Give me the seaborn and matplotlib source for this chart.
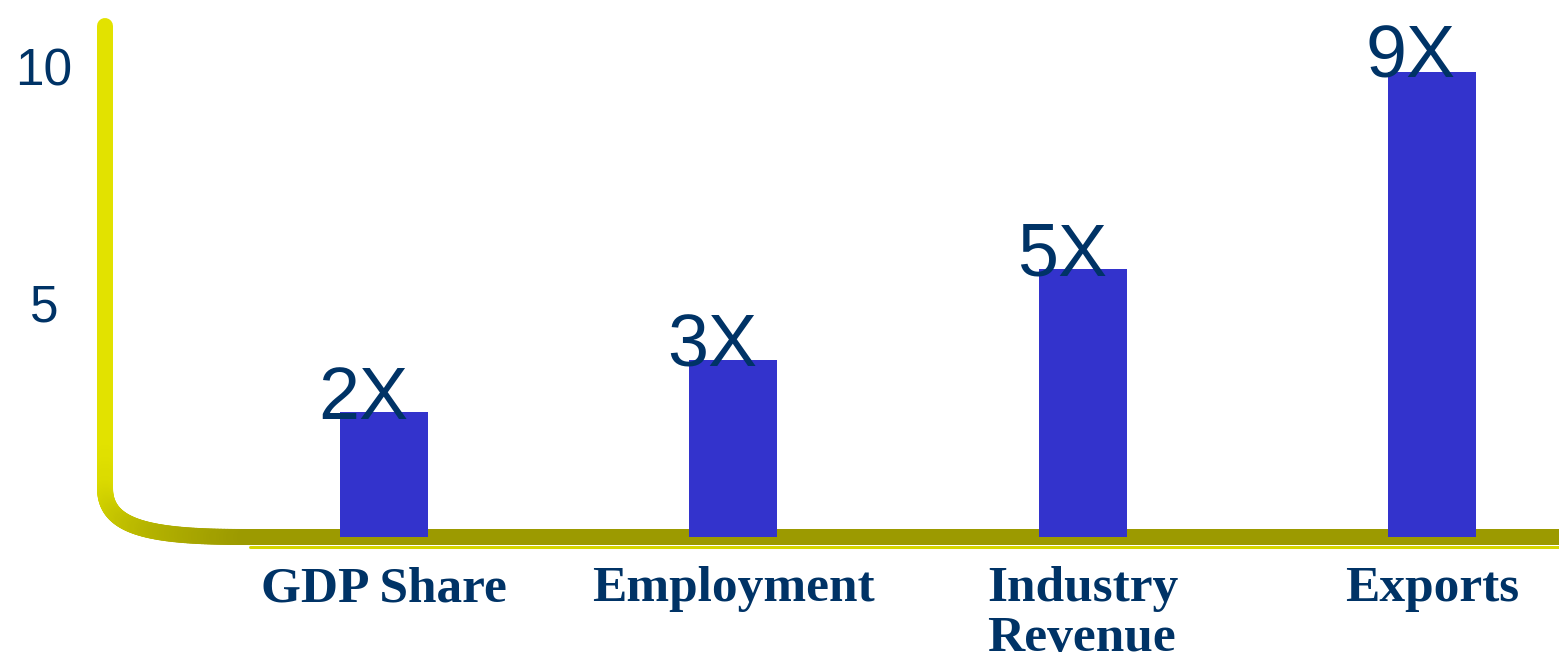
import numpy as np
import matplotlib
matplotlib.use("Agg")
import matplotlib.pyplot as plt
from matplotlib.collections import LineCollection
from matplotlib.lines import Line2D
import seaborn as sns

# ---- data ----
categories = ["GDP Share", "Employment", "Industry\nRevenue", "Exports"]
values = [2.65, 3.77, 5.7, 9.9]
value_labels = ["2X", "3X", "5X", "9X"]
yticks = [5, 10]
ytick_labels = ["5", "10"]

BAR = "#3333CC"
NAVY = "#003366"
YELLOW = np.array([0xE2, 0xE2, 0x00]) / 255
OLIVE = np.array([0x9C, 0x9A, 0x00]) / 255

sns.set_theme(style="white")
plt.rcParams["font.family"] = ["Liberation Sans", "DejaVu Sans"]

W, H = 1559, 661
fig = plt.figure(figsize=(W / 100, H / 100), dpi=100)
ax = fig.add_axes([105 / W, 1 - 537 / H, (W - 105) / W, 517 / H])
ax.patch.set_visible(False)

sns.barplot(x=categories, y=values, color=BAR, saturation=1, width=0.252,
            linewidth=0, edgecolor=BAR, ax=ax, zorder=3)

ax.set_xlim(-0.799, 3.364)
ax.set_ylim(0, 11)
for s in ax.spines.values():
    s.set_visible(False)
ax.set_xlabel("")
ax.set_ylabel("")

ax.set_yticks(yticks)
ax.set_yticklabels(ytick_labels)
ax.tick_params(axis="y", length=0, pad=44, labelsize=37, labelcolor=NAVY)
for t in ax.get_yticklabels():
    t.set_horizontalalignment("center")
    t.set_family(["Liberation Sans", "DejaVu Sans"])

ax.tick_params(axis="x", length=0, pad=21)
for t in ax.get_xticklabels():
    t.set_family(["Liberation Serif", "DejaVu Serif"])
    t.set_fontweight("bold")
    t.set_fontsize(37)
    t.set_color(NAVY)
    t.set_linespacing(1.12)
    t.set_multialignment("left")

for i, (v, lab) in enumerate(zip(values, value_labels)):
    ax.annotate(lab, xy=(i, v), xytext=(-15, -4.5), textcoords="offset points",
                ha="center", va="baseline", fontsize=53, color=NAVY,
                family=["Liberation Sans", "DejaVu Sans"], zorder=5,
                annotation_clip=False)

# ---- decorative yellow L-shaped axis with rounded corner ----
def fx(x):
    return x / W

def fy(y):
    return 1 - y / H

pts = []
vy = np.linspace(26, 488, 120)
pts += [(105, y) for y in vy]
t = np.linspace(0, 1, 80)
p0, p1, p2, p3 = np.array([105, 488]), np.array([105, 528]), np.array([150, 537]), np.array([245, 537])
bez = ((1 - t)[:, None] ** 3 * p0 + 3 * ((1 - t) ** 2 * t)[:, None] * p1
       + 3 * ((1 - t) * t ** 2)[:, None] * p2 + (t ** 3)[:, None] * p3)
pts += [tuple(p) for p in bez[1:]]
hx = np.linspace(245, W + 5, 60)
pts += [(x, 537) for x in hx[1:]]
pts = np.array(pts)
fpts = np.column_stack([fx(pts[:, 0]), fy(pts[:, 1])])
segs = np.stack([fpts[:-1], fpts[1:]], axis=1)
ncurve_start = 119
ncurve_end = 119 + 79
cols = []
for k in range(len(segs)):
    if k < ncurve_start - 10:
        f = 0.0
    elif k > ncurve_end:
        f = 1.0
    else:
        f = (k - (ncurve_start - 10)) / (ncurve_end - (ncurve_start - 10))
    cols.append(tuple((1 - f) * YELLOW + f * OLIVE))
lc = LineCollection(segs, colors=cols, linewidths=16 * 72 / 100,
                    transform=fig.transFigure, capstyle="round",
                    joinstyle="round", zorder=1, clip_on=False)
ax.add_collection(lc)
ax.add_line(Line2D([fx(250), fx(W)], [fy(546.5), fy(546.5)], color="#D6D600",
                   lw=3 * 72 / 100, transform=fig.transFigure, zorder=0.9,
                   clip_on=False))

fig.savefig("out.png", dpi=100)
